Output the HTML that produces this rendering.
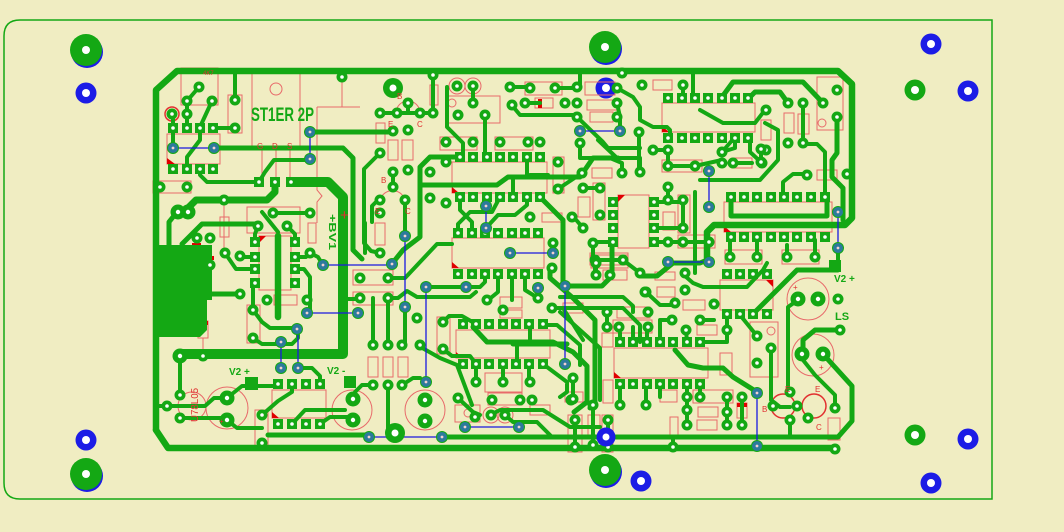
<!DOCTYPE html>
<html><head><meta charset="utf-8"><style>html,body{margin:0;padding:0;background:#f0edc2}svg{display:block}</style></head><body>
<svg width="1064" height="532" viewBox="0 0 1064 532" xmlns="http://www.w3.org/2000/svg" font-family="Liberation Sans, sans-serif">
<defs>
<g id="r"><circle r="5.5" fill="#14a814"/><circle r="1.8" fill="#fff"/></g>
<g id="R"><circle r="7.5" fill="#14a814"/><circle r="2.2" fill="#fff"/></g>
<g id="s"><rect x="-5" y="-5" width="10" height="10" fill="#14a814"/><circle r="1.8" fill="#fff"/></g>
<g id="v"><circle r="6" fill="#14a814"/><circle r="5" fill="#2c7a9c"/><circle r="1.4" fill="#f3d0d0"/></g>
</defs>
<rect width="1064" height="532" fill="#f0edc2"/>
<path d="M20,20 H992 V499 H20 Q4,499 4,483 V36 Q4,20 20,20 Z" fill="none" stroke="#14a814" stroke-width="1.5"/>

<!-- mounting holes -->
<g>
<circle cx="87" cy="52" r="16" fill="#1c1ce6"/><circle cx="86" cy="50" r="16" fill="#14a814"/><circle cx="86" cy="50" r="4" fill="#fff"/>
<circle cx="86" cy="93" r="10.5" fill="#1c1ce6"/><circle cx="86" cy="93" r="4" fill="#fff"/>
<circle cx="86" cy="440" r="10.5" fill="#1c1ce6"/><circle cx="86" cy="440" r="4" fill="#fff"/>
<circle cx="87" cy="476" r="16" fill="#1c1ce6"/><circle cx="86" cy="474" r="16" fill="#14a814"/><circle cx="86" cy="474" r="4" fill="#fff"/>
<circle cx="606" cy="49" r="16" fill="#1c1ce6"/><circle cx="605" cy="47" r="16" fill="#14a814"/><circle cx="605" cy="47" r="4" fill="#fff"/>
<circle cx="606" cy="88" r="10.5" fill="#1c1ce6"/><circle cx="606" cy="88" r="4" fill="#fff"/>
<circle cx="606" cy="472" r="16" fill="#1c1ce6"/><circle cx="605" cy="470" r="16" fill="#14a814"/><circle cx="605" cy="470" r="4" fill="#fff"/>
<circle cx="641" cy="481" r="10.5" fill="#1c1ce6"/><circle cx="641" cy="481" r="4" fill="#fff"/>
<circle cx="931" cy="44" r="10.5" fill="#1c1ce6"/><circle cx="931" cy="44" r="4" fill="#fff"/>
<circle cx="915" cy="90" r="10.5" fill="#14a814"/><circle cx="915" cy="90" r="4" fill="#fff"/>
<circle cx="968" cy="91" r="10.5" fill="#1c1ce6"/><circle cx="968" cy="91" r="4" fill="#fff"/>
<circle cx="915" cy="435" r="10.5" fill="#14a814"/><circle cx="915" cy="435" r="4" fill="#fff"/>
<circle cx="968" cy="439" r="10.5" fill="#1c1ce6"/><circle cx="968" cy="439" r="4" fill="#fff"/>
<circle cx="931" cy="483" r="10.5" fill="#1c1ce6"/><circle cx="931" cy="483" r="4" fill="#fff"/>
</g>

<!-- red silkscreen outlines -->
<g fill="none" stroke="#e86a6a" stroke-width="1">
<rect x="181" y="68" width="37" height="37"/><rect x="167" y="134" width="53" height="30"/><rect x="153" y="181" width="38" height="12"/>
<rect x="228" y="95" width="14" height="38"/><rect x="252" y="72" width="48" height="78"/><circle cx="276" cy="89" r="6"/>
<path d="M262,150V182M276,150V182M290,150V182M317,107H360M317,107V190L322,196L317,202V223M342,77V107"/>
<rect x="220" y="217" width="9" height="20"/><path d="M224,200V250"/>
<rect x="247" y="207" width="53" height="26"/><rect x="259" y="236" width="32" height="54"/>
<rect x="308" y="223" width="8" height="20"/><rect x="274" y="295" width="23" height="10"/>
<rect x="247" y="305" width="13" height="38"/><rect x="181" y="250" width="11" height="18"/><path d="M186,268V300"/>
<rect x="198" y="321" width="10" height="17"/><path d="M203,338V356"/>
<circle cx="192" cy="406" r="14"/><circle cx="227" cy="408" r="21"/><rect x="272" y="390" width="54" height="28"/>
<rect x="255" y="410" width="13" height="37"/><circle cx="352" cy="410" r="20"/><circle cx="425" cy="410" r="20"/>
<rect x="368" y="357" width="10" height="20"/><rect x="383" y="357" width="10" height="20"/><rect x="398" y="357" width="10" height="20"/>
<rect x="353" y="270" width="40" height="15"/><rect x="353" y="292" width="40" height="13"/>
<rect x="437" y="317" width="13" height="37"/><rect x="456" y="330" width="94" height="28"/>
<rect x="485" y="373" width="37" height="19"/><rect x="488" y="393" width="34" height="12"/><rect x="455" y="405" width="25" height="17"/>
<circle cx="468" cy="413" r="4"/><circle cx="491" cy="415" r="8"/><circle cx="505" cy="415" r="8"/>
<rect x="500" y="297" width="22" height="11"/><rect x="500" y="310" width="22" height="8"/>
<rect x="452" y="162" width="95" height="31"/><rect x="452" y="238" width="92" height="30"/>
<rect x="440" y="137" width="37" height="13"/><rect x="495" y="137" width="38" height="13"/>
<rect x="447" y="96" width="53" height="27"/><circle cx="452" cy="103" r="4"/><circle cx="457" cy="86" r="8"/><circle cx="473" cy="86" r="8"/>
<rect x="430" y="85" width="8" height="20"/>
<path d="M396,113A12,12 0 0 1 420,113M380,200A13,13 0 0 1 405,200"/>
<rect x="376" y="123" width="9" height="20"/><rect x="388" y="140" width="10" height="20"/><rect x="402" y="140" width="11" height="20"/><rect x="375" y="223" width="10" height="22"/>
<rect x="525" y="82" width="37" height="13"/><rect x="585" y="82" width="30" height="13"/><rect x="535" y="98" width="18" height="10"/>
<rect x="587" y="100" width="30" height="10"/><rect x="590" y="112" width="23" height="10"/><rect x="553" y="157" width="11" height="36"/>
<rect x="662" y="103" width="93" height="29"/><rect x="653" y="80" width="19" height="10"/>
<rect x="817" y="77" width="26" height="53"/><circle cx="822" cy="123" r="4"/>
<rect x="784" y="113" width="10" height="20"/><rect x="798" y="114" width="11" height="20"/><rect x="761" y="120" width="10" height="20"/>
<rect x="732" y="158" width="20" height="10"/><rect x="817" y="170" width="20" height="10"/>
<rect x="724" y="202" width="108" height="30"/><rect x="725" y="250" width="37" height="14"/><rect x="782" y="250" width="37" height="14"/>
<rect x="618" y="195" width="31" height="53"/><rect x="590" y="253" width="38" height="12"/><rect x="655" y="272" width="20" height="8"/>
<rect x="592" y="168" width="20" height="10"/><rect x="593" y="183" width="12" height="37"/><rect x="578" y="197" width="12" height="20"/>
<rect x="662" y="160" width="40" height="12"/><rect x="678" y="195" width="12" height="38"/><rect x="663" y="212" width="12" height="18"/><rect x="678" y="235" width="37" height="13"/>
<rect x="720" y="280" width="53" height="30"/><circle cx="808" cy="299" r="21"/><circle cx="813" cy="355" r="21"/>
<rect x="750" y="322" width="28" height="55"/><circle cx="771" cy="331" r="4"/><rect x="828" y="418" width="12" height="22"/>
<rect x="614" y="348" width="94" height="30"/><rect x="591" y="255" width="37" height="13"/><rect x="603" y="270" width="24" height="10"/>
<rect x="657" y="287" width="18" height="10"/><rect x="683" y="300" width="22" height="10"/><rect x="697" y="325" width="20" height="10"/>
<rect x="720" y="353" width="12" height="22"/><rect x="693" y="390" width="40" height="13"/><rect x="698" y="407" width="20" height="10"/><rect x="697" y="420" width="20" height="10"/>
<rect x="737" y="403" width="10" height="15"/><rect x="617" y="307" width="33" height="11"/><rect x="613" y="320" width="39" height="13"/>
<rect x="602" y="333" width="11" height="14"/><rect x="603" y="380" width="10" height="23"/><rect x="660" y="390" width="17" height="12"/><rect x="670" y="417" width="8" height="20"/>
<rect x="568" y="415" width="14" height="37"/><rect x="588" y="415" width="12" height="22"/><rect x="602" y="415" width="11" height="37"/>
<rect x="530" y="405" width="20" height="10"/><rect x="565" y="392" width="18" height="10"/>
<rect x="563" y="303" width="20" height="10"/><rect x="542" y="213" width="20" height="9"/>
</g>
<g stroke="#e23030" stroke-width="1.5" fill="none"><circle cx="783" cy="406" r="12"/><circle cx="814" cy="406" r="12"/><circle cx="172" cy="114" r="7"/></g>
<g fill="#e00000">
<path d="M167,158L175,164H167Z"/><path d="M452,187L459,193H452Z"/><path d="M452,262L459,268H452Z"/><path d="M456,352L463,358H456Z"/>
<path d="M614,372L621,378H614Z"/><path d="M662,126L669,132H662Z"/><path d="M724,226L731,232H724Z"/><path d="M773,280L766,280L773,287Z"/>
<path d="M618,195H625L618,202Z"/><path d="M259,236H266L259,243Z"/><path d="M272,412L279,418H272Z"/>
<rect x="198" y="321" width="10" height="4"/><rect x="737" y="403" width="10" height="4"/><rect x="538" y="99" width="4" height="9"/>
<rect x="192" y="243" width="9" height="4"/><rect x="205" y="256" width="9" height="4"/>
</g>

<!-- copper fill -->
<path d="M153,245H212V300H207V330L200,337H159L153,330Z" fill="#14a814"/>

<!-- traces -->
<g fill="none" stroke="#14a814" stroke-linecap="round" stroke-linejoin="round">
<g stroke-width="6.5">
<path d="M156,430V90L177,71H838L852,84V218L845,225H714L707,232V258"/>
<path d="M156,430L168,448H835"/>
<path d="M278,236V317"/>
</g>
<path stroke-width="10" d="M180,354H343V197L328,182H291"/>
<path stroke-width="7" d="M275,182V192L267,200H196L184,212"/>
<g stroke-width="5">
<path d="M214,148H343L353,158V250L362,259"/>
<path d="M310,132H393"/>
<path d="M240,294H212"/>
<path d="M268,435H369"/>
<path d="M442,437H838L852,421V386L823,354"/>
<path d="M177,212L169,222V246"/>
<path d="M182,244L202,224H255L258,226"/>
<path d="M473,327L487,342H553L573,352L587,366V402L574,412"/>
<path d="M675,350L688,365L703,368H723L733,377L757,392"/>
<path d="M722,97L733,82H803L823,103"/>
<path d="M750,97L755,92H780L788,103"/>
<path d="M731,197V216H827V197"/>
<path d="M422,185H497L508,177H580L593,158H618"/>
<path d="M837,117V153L832,160V177L843,188V220"/>
<path d="M838,270H797L780,287L767,300L753,314"/>
<path d="M840,330H815L803,340V354"/>
<path d="M550,268V278L573,298L595,320V402L590,408"/>
<path d="M513,344H567"/>
<path d="M640,276H657L673,263H700L707,260"/>
<path d="M391,265L403,250L420,237V167L430,157H460"/>
<path d="M540,197L563,220V286H602L612,276V243"/>
</g>
<g stroke-width="4">
<path d="M187,101L199,87M187,101V128M212,101L200,127V140L187,157V169M173,114V148"/>
<path d="M235,71V100M235,128H213M200,169V175L207,182H259M259,182L265,172L274,160H310M342,71V77M156,187H160"/>
<path d="M273,213H310M262,212L278,232M258,226L255,234V242M287,226L295,234V242M240,257H255M225,253L236,269H255"/>
<path d="M253,283V310M253,310L262,322L270,328H297M253,338L262,344H292L298,338V329"/>
<path d="M295,257H306L310,253L318,257L323,265M295,269H304L310,277V313"/>
<path d="M180,356V395M156,406H205L214,398H227M180,418H227M227,398L242,386H278M227,420L237,428H262"/>
<path d="M262,415L278,401L292,392V384M298,368H312L320,376V384M292,424L305,410H345M320,424L330,417H350"/>
<path d="M340,299H360M388,278H405L437,244H452M373,298V345M388,298V345M405,307V345M388,385V437"/>
<path d="M373,385H362L355,392V399M402,385L413,378H420M426,287H466"/>
<path d="M380,153L364,169V243L371,251L380,253M393,172V187M405,200V237"/>
<path d="M466,287H480L485,282V274M498,274V292L487,301M512,274V300M525,274V290L538,298"/>
<path d="M388,298H398L407,291L417,297H470L476,292"/>
<path d="M443,322L449,316H462L476,324M443,349L452,356H470L476,364"/>
<path d="M476,364V382M503,364V382M529,364V382M530,322V344M517,344V364M543,325H557L580,345V365M543,364L567,382V392L560,397"/>
<path d="M458,398L473,412L480,415M490,415L500,410H543L570,427H600M505,415L513,422H537L552,437M417,345L440,358L457,365L472,405"/>
<path d="M380,113H433M433,71V113M408,103V113M380,198L372,206V222M365,223V253"/>
<path d="M447,87V127L463,143V157M485,115V157M473,86V103M513,177V197M527,158V177"/>
<path d="M510,103L520,115H575L603,142L608,148H640M510,87H530M555,88H577M525,103H540M580,87V71M617,103L620,117V131"/>
<path d="M617,88L633,97L640,107V120L653,127H667L670,130V138M693,71V98M683,85V98M622,71V73"/>
<path d="M460,197V210L472,222V233M527,197V205L515,215H498L486,228M500,197L492,212H470L458,224V233"/>
<path d="M580,143V158H610L622,163V173M598,140L617,158H640V172M582,173L558,189M530,175H548"/>
<path d="M552,308H623L640,325V342M563,308L583,340M593,243V260M595,260V275"/>
<path d="M583,188H600M572,215L583,228M654,202H683M654,228H683M654,242H709M668,187V200M683,200V228M613,242H593"/>
<path d="M595,260H623L640,273M646,292L660,305H675M695,192V273M639,132V172M653,150H668V166H695L722,160M722,152L735,137"/>
<path d="M761,149V162M733,163H752M750,137V152L762,163M735,137V148L722,152M700,110L723,123H755L765,110"/>
<path d="M765,123L778,130V160L760,180H700M803,144H817L825,152V197M807,174H793L783,182V197M803,103V143"/>
<path d="M560,297H623L633,306V312M560,312L580,330L600,348V400M620,342V333M633,342V327M647,342V327M607,312V327"/>
<path d="M660,342V320H672M700,320H714M686,330L687,342M702,342H727V330M727,314V330M685,276L693,283L703,287H747L763,270L767,263"/>
<path d="M620,384V405M646,384V405M660,384V397M687,384V425M700,384V397M727,397V425M742,397V425M757,336L740,315"/>
<path d="M771,348V400L780,407H790M790,420V437M835,408V395L815,375L803,360M798,300L788,307V392M838,262V248"/>
<path d="M730,257V240M757,257V237M787,257V245M815,257V240M593,405V445M575,420V447M608,420V447M673,447V437"/>
<path d="M596,263V275M573,378V399"/>
</g>
</g>

<!-- blue jumpers -->
<g stroke="#1a1ae0" stroke-width="1.3" fill="none">
<path d="M310,132V159M173,148H214M307,313H358M323,265H392M405,236V308M426,287V382M369,437H442M465,427H519"/>
<path d="M565,286V364M580,131H620M486,206V228M510,253H553M709,171V207M838,212V248M668,262H709M757,393V446M281,342V368M298,329V368"/>
</g>

<!-- square pads -->
<g>
<use href="#s" x="173" y="128"/><use href="#s" x="187" y="128"/><use href="#s" x="200" y="128"/><use href="#s" x="213" y="128"/>
<use href="#s" x="173" y="169"/><use href="#s" x="187" y="169"/><use href="#s" x="200" y="169"/><use href="#s" x="213" y="169"/>
<use href="#s" x="259" y="182"/><use href="#s" x="275" y="182"/><use href="#s" x="291" y="182"/>
<use href="#s" x="460" y="157"/><use href="#s" x="473" y="157"/><use href="#s" x="487" y="157"/><use href="#s" x="500" y="157"/><use href="#s" x="513" y="157"/><use href="#s" x="527" y="157"/><use href="#s" x="540" y="157"/>
<use href="#s" x="460" y="197"/><use href="#s" x="473" y="197"/><use href="#s" x="487" y="197"/><use href="#s" x="500" y="197"/><use href="#s" x="513" y="197"/><use href="#s" x="527" y="197"/><use href="#s" x="540" y="197"/>
<use href="#s" x="458" y="233"/><use href="#s" x="472" y="233"/><use href="#s" x="485" y="233"/><use href="#s" x="498" y="233"/><use href="#s" x="512" y="233"/><use href="#s" x="525" y="233"/><use href="#s" x="538" y="233"/>
<use href="#s" x="458" y="274"/><use href="#s" x="472" y="274"/><use href="#s" x="485" y="274"/><use href="#s" x="498" y="274"/><use href="#s" x="512" y="274"/><use href="#s" x="525" y="274"/><use href="#s" x="538" y="274"/>
<use href="#s" x="463" y="324"/><use href="#s" x="476" y="324"/><use href="#s" x="489" y="324"/><use href="#s" x="503" y="324"/><use href="#s" x="516" y="324"/><use href="#s" x="529" y="324"/><use href="#s" x="543" y="324"/>
<use href="#s" x="463" y="364"/><use href="#s" x="476" y="364"/><use href="#s" x="489" y="364"/><use href="#s" x="503" y="364"/><use href="#s" x="516" y="364"/><use href="#s" x="529" y="364"/><use href="#s" x="543" y="364"/>
<use href="#s" x="620" y="342"/><use href="#s" x="633" y="342"/><use href="#s" x="647" y="342"/><use href="#s" x="660" y="342"/><use href="#s" x="673" y="342"/><use href="#s" x="687" y="342"/><use href="#s" x="700" y="342"/>
<use href="#s" x="620" y="384"/><use href="#s" x="633" y="384"/><use href="#s" x="647" y="384"/><use href="#s" x="660" y="384"/><use href="#s" x="673" y="384"/><use href="#s" x="687" y="384"/><use href="#s" x="700" y="384"/>
<use href="#s" x="668" y="98"/><use href="#s" x="682" y="98"/><use href="#s" x="695" y="98"/><use href="#s" x="708" y="98"/><use href="#s" x="722" y="98"/><use href="#s" x="735" y="98"/><use href="#s" x="748" y="98"/>
<use href="#s" x="668" y="138"/><use href="#s" x="682" y="138"/><use href="#s" x="695" y="138"/><use href="#s" x="708" y="138"/><use href="#s" x="722" y="138"/><use href="#s" x="735" y="138"/><use href="#s" x="748" y="138"/>
<use href="#s" x="731" y="197"/><use href="#s" x="744" y="197"/><use href="#s" x="757" y="197"/><use href="#s" x="771" y="197"/><use href="#s" x="784" y="197"/><use href="#s" x="797" y="197"/><use href="#s" x="811" y="197"/><use href="#s" x="825" y="197"/>
<use href="#s" x="731" y="237"/><use href="#s" x="744" y="237"/><use href="#s" x="757" y="237"/><use href="#s" x="771" y="237"/><use href="#s" x="784" y="237"/><use href="#s" x="797" y="237"/><use href="#s" x="811" y="237"/><use href="#s" x="825" y="237"/>
<use href="#s" x="727" y="274"/><use href="#s" x="740" y="274"/><use href="#s" x="753" y="274"/><use href="#s" x="767" y="274"/>
<use href="#s" x="727" y="314"/><use href="#s" x="740" y="314"/><use href="#s" x="753" y="314"/><use href="#s" x="767" y="314"/>
<use href="#s" x="613" y="202"/><use href="#s" x="613" y="215"/><use href="#s" x="613" y="228"/><use href="#s" x="613" y="242"/>
<use href="#s" x="654" y="202"/><use href="#s" x="654" y="215"/><use href="#s" x="654" y="228"/><use href="#s" x="654" y="242"/>
<use href="#s" x="255" y="242"/><use href="#s" x="255" y="257"/><use href="#s" x="255" y="269"/><use href="#s" x="255" y="283"/>
<use href="#s" x="295" y="242"/><use href="#s" x="295" y="257"/><use href="#s" x="295" y="269"/><use href="#s" x="295" y="283"/>
<use href="#s" x="278" y="384"/><use href="#s" x="292" y="384"/><use href="#s" x="306" y="384"/><use href="#s" x="320" y="384"/>
<use href="#s" x="278" y="424"/><use href="#s" x="292" y="424"/><use href="#s" x="306" y="424"/><use href="#s" x="320" y="424"/>
<rect x="245" y="377" width="13" height="13" fill="#14a814"/><rect x="344" y="376" width="12" height="12" fill="#14a814"/><rect x="829" y="260" width="12" height="12" fill="#14a814"/>
</g>

<!-- round pads -->
<g>
<use href="#r" x="199" y="87"/><use href="#r" x="187" y="101"/><use href="#r" x="212" y="101"/><use href="#r" x="172" y="114"/><use href="#r" x="187" y="114"/>
<use href="#r" x="235" y="100"/><use href="#r" x="235" y="128"/><use href="#r" x="342" y="77"/><use href="#r" x="160" y="187"/><use href="#r" x="187" y="187"/><use href="#r" x="224" y="200"/>
<use href="#R" x="178" y="212"/><use href="#R" x="188" y="212"/>
<use href="#r" x="273" y="213"/><use href="#r" x="310" y="213"/><use href="#r" x="258" y="226"/><use href="#r" x="287" y="226"/><use href="#r" x="240" y="256"/>
<use href="#r" x="197" y="238"/><use href="#r" x="210" y="238"/><use href="#r" x="225" y="253"/><use href="#r" x="210" y="265"/><use href="#r" x="253" y="310"/><use href="#r" x="253" y="338"/>
<use href="#r" x="267" y="300"/><use href="#r" x="307" y="300"/><use href="#r" x="310" y="253"/><use href="#r" x="240" y="294"/>
<use href="#R" x="180" y="356"/><use href="#r" x="203" y="356"/><use href="#r" x="180" y="395"/><use href="#r" x="167" y="406"/><use href="#r" x="180" y="418"/>
<use href="#r" x="262" y="415"/><use href="#r" x="262" y="443"/>
<use href="#r" x="373" y="385"/><use href="#r" x="388" y="385"/><use href="#r" x="402" y="385"/>
<use href="#r" x="373" y="345"/><use href="#r" x="388" y="345"/><use href="#r" x="402" y="345"/><use href="#r" x="360" y="278"/><use href="#r" x="388" y="278"/><use href="#r" x="360" y="298"/><use href="#r" x="388" y="298"/>
<use href="#r" x="443" y="322"/><use href="#r" x="443" y="349"/><use href="#r" x="476" y="382"/><use href="#r" x="503" y="382"/><use href="#r" x="530" y="382"/>
<use href="#r" x="458" y="398"/><use href="#r" x="475" y="417"/><use href="#r" x="491" y="415"/><use href="#r" x="505" y="415"/><use href="#r" x="492" y="400"/><use href="#r" x="520" y="400"/><use href="#r" x="532" y="400"/><use href="#r" x="571" y="400"/>
<use href="#r" x="487" y="300"/><use href="#r" x="503" y="310"/><use href="#r" x="538" y="298"/><use href="#r" x="420" y="345"/><use href="#r" x="417" y="318"/>
<use href="#r" x="380" y="113"/><use href="#r" x="397" y="113"/><use href="#r" x="420" y="113"/><use href="#r" x="408" y="103"/><use href="#r" x="433" y="113"/><use href="#r" x="433" y="75"/>
<use href="#r" x="393" y="131"/><use href="#r" x="408" y="130"/><use href="#r" x="380" y="153"/><use href="#r" x="393" y="172"/><use href="#r" x="408" y="170"/>
<use href="#r" x="380" y="200"/><use href="#r" x="393" y="187"/><use href="#r" x="405" y="200"/><use href="#r" x="380" y="213"/><use href="#r" x="380" y="253"/>
<use href="#r" x="430" y="172"/><use href="#r" x="430" y="198"/><use href="#r" x="446" y="162"/><use href="#r" x="446" y="203"/>
<use href="#r" x="446" y="142"/><use href="#r" x="473" y="142"/><use href="#r" x="500" y="142"/><use href="#r" x="528" y="142"/><use href="#r" x="540" y="142"/><use href="#r" x="580" y="143"/>
<use href="#r" x="558" y="162"/><use href="#r" x="558" y="189"/>
<use href="#r" x="457" y="86"/><use href="#r" x="473" y="86"/><use href="#r" x="473" y="103"/><use href="#r" x="458" y="115"/><use href="#r" x="485" y="115"/>
<circle cx="393" cy="88" r="10" fill="#14a814"/><circle cx="393" cy="88" r="3.5" fill="#fff"/>
<circle cx="395" cy="433" r="10" fill="#14a814"/><circle cx="395" cy="433" r="3.5" fill="#fff"/>
<use href="#r" x="510" y="87"/><use href="#r" x="530" y="88"/><use href="#r" x="555" y="88"/><use href="#r" x="577" y="87"/><use href="#r" x="512" y="105"/><use href="#r" x="525" y="103"/>
<use href="#r" x="565" y="103"/><use href="#r" x="577" y="103"/><use href="#r" x="577" y="117"/><use href="#r" x="617" y="117"/><use href="#r" x="617" y="103"/><use href="#r" x="617" y="88"/><use href="#r" x="622" y="73"/>
<use href="#r" x="642" y="85"/><use href="#r" x="683" y="85"/>
<use href="#r" x="788" y="103"/><use href="#r" x="803" y="103"/><use href="#r" x="788" y="143"/><use href="#r" x="803" y="143"/><use href="#r" x="766" y="110"/><use href="#r" x="766" y="150"/>
<use href="#r" x="762" y="163"/><use href="#r" x="722" y="152"/><use href="#r" x="722" y="163"/><use href="#r" x="807" y="175"/><use href="#r" x="847" y="174"/>
<use href="#r" x="837" y="90"/><use href="#r" x="837" y="117"/><use href="#r" x="823" y="103"/>
<use href="#r" x="730" y="257"/><use href="#r" x="757" y="257"/><use href="#r" x="787" y="257"/><use href="#r" x="815" y="257"/>
<use href="#r" x="582" y="173"/><use href="#r" x="622" y="173"/><use href="#r" x="583" y="188"/><use href="#r" x="600" y="188"/><use href="#r" x="600" y="215"/><use href="#r" x="583" y="228"/><use href="#r" x="572" y="217"/><use href="#r" x="530" y="217"/>
<use href="#r" x="553" y="243"/><use href="#r" x="593" y="243"/><use href="#r" x="595" y="260"/><use href="#r" x="623" y="260"/><use href="#r" x="640" y="273"/><use href="#r" x="646" y="292"/><use href="#r" x="685" y="273"/><use href="#r" x="685" y="290"/>
<use href="#r" x="639" y="132"/><use href="#r" x="653" y="150"/><use href="#r" x="668" y="150"/><use href="#r" x="668" y="166"/><use href="#r" x="695" y="166"/>
<use href="#r" x="761" y="149"/><use href="#r" x="761" y="162"/><use href="#r" x="733" y="163"/><use href="#r" x="668" y="187"/><use href="#r" x="668" y="200"/><use href="#r" x="683" y="200"/>
<use href="#r" x="683" y="228"/><use href="#r" x="668" y="242"/><use href="#r" x="683" y="242"/><use href="#r" x="709" y="242"/><use href="#r" x="640" y="172"/>
<use href="#r" x="552" y="268"/><use href="#r" x="552" y="308"/><use href="#r" x="610" y="275"/>
<use href="#r" x="596" y="263"/><use href="#r" x="596" y="275"/><use href="#r" x="645" y="292"/><use href="#r" x="675" y="303"/><use href="#r" x="714" y="304"/>
<use href="#r" x="672" y="320"/><use href="#r" x="700" y="320"/><use href="#r" x="686" y="330"/><use href="#r" x="727" y="330"/><use href="#r" x="607" y="312"/><use href="#r" x="607" y="327"/>
<use href="#r" x="619" y="327"/><use href="#r" x="648" y="327"/><use href="#r" x="648" y="312"/><use href="#r" x="742" y="397"/><use href="#r" x="727" y="397"/><use href="#r" x="700" y="397"/>
<use href="#r" x="687" y="397"/><use href="#r" x="687" y="410"/><use href="#r" x="687" y="425"/><use href="#r" x="727" y="412"/><use href="#r" x="742" y="425"/><use href="#r" x="727" y="425"/>
<use href="#r" x="620" y="405"/><use href="#r" x="646" y="405"/><use href="#r" x="593" y="405"/><use href="#r" x="573" y="378"/><use href="#r" x="573" y="399"/><use href="#r" x="575" y="420"/><use href="#r" x="575" y="447"/>
<use href="#r" x="593" y="445"/><use href="#r" x="608" y="420"/><use href="#r" x="608" y="447"/><use href="#r" x="757" y="336"/><use href="#r" x="771" y="348"/><use href="#r" x="757" y="363"/><use href="#r" x="673" y="447"/>
<use href="#r" x="838" y="299"/><use href="#r" x="840" y="330"/><use href="#R" x="802" y="354"/><use href="#R" x="823" y="354"/><use href="#R" x="818" y="299"/>
<use href="#r" x="790" y="392"/><use href="#r" x="773" y="406"/><use href="#r" x="790" y="420"/><use href="#r" x="797" y="406"/><use href="#r" x="808" y="418"/><use href="#r" x="835" y="408"/><use href="#r" x="835" y="449"/>
<use href="#R" x="798" y="299"/><use href="#R" x="227" y="398"/><use href="#R" x="227" y="420"/><use href="#R" x="425" y="400"/><use href="#R" x="425" y="421"/><use href="#R" x="353" y="399"/><use href="#R" x="353" y="420"/>
</g>
<circle cx="606" cy="437" r="9.5" fill="#1c1ce6"/><circle cx="606" cy="437" r="3.5" fill="#fff"/>

<!-- vias -->
<g>
<use href="#v" x="173" y="148"/><use href="#v" x="214" y="148"/><use href="#v" x="310" y="132"/><use href="#v" x="310" y="159"/><use href="#v" x="323" y="265"/>
<use href="#v" x="307" y="313"/><use href="#v" x="358" y="313"/><use href="#v" x="297" y="329"/><use href="#v" x="281" y="342"/><use href="#v" x="281" y="368"/><use href="#v" x="298" y="368"/>
<use href="#v" x="392" y="264"/><use href="#v" x="426" y="287"/><use href="#v" x="466" y="287"/><use href="#v" x="405" y="307"/><use href="#v" x="426" y="382"/>
<use href="#v" x="465" y="427"/><use href="#v" x="519" y="427"/><use href="#v" x="442" y="437"/><use href="#v" x="369" y="437"/><use href="#v" x="538" y="288"/><use href="#v" x="565" y="286"/><use href="#v" x="565" y="364"/>
<use href="#v" x="510" y="253"/><use href="#v" x="553" y="253"/><use href="#v" x="580" y="131"/><use href="#v" x="620" y="131"/><use href="#v" x="486" y="206"/><use href="#v" x="486" y="228"/><use href="#v" x="405" y="236"/>
<use href="#v" x="709" y="171"/><use href="#v" x="709" y="207"/><use href="#v" x="838" y="212"/><use href="#v" x="838" y="248"/><use href="#v" x="668" y="262"/><use href="#v" x="709" y="262"/><use href="#v" x="757" y="393"/><use href="#v" x="757" y="446"/>
</g>

<!-- text -->
<g font-weight="bold" fill="#14a814">
<text x="251" y="121" font-size="19" textLength="63" lengthAdjust="spacingAndGlyphs">ST1ER 2P</text>
<text transform="translate(329,214) rotate(90)" font-size="10" textLength="36" lengthAdjust="spacingAndGlyphs">+BV1</text>
<text x="229" y="375" font-size="10">V2 +</text>
<text x="327" y="374" font-size="10">V2 -</text>
<text x="834" y="282" font-size="10">V2 +</text>
<text x="835" y="320" font-size="11">LS</text>
</g>
<g fill="#e03030">
<text x="340" y="220" font-size="15">+</text>
<text x="257" y="149" font-size="8">G</text><text x="272" y="149" font-size="8">D</text><text x="287" y="149" font-size="8">S</text>
<text transform="translate(198,422) rotate(-90)" font-size="10" textLength="34" lengthAdjust="spacingAndGlyphs">U78L05</text>
<text x="397" y="99" font-size="8">B</text><text x="388" y="127" font-size="8">E</text><text x="417" y="127" font-size="8">C</text>
<text x="381" y="183" font-size="8">B</text><text x="375" y="214" font-size="8">E</text><text x="405" y="214" font-size="8">C</text>
<text x="762" y="412" font-size="8">B</text><text x="785" y="392" font-size="8">E</text><text x="815" y="392" font-size="8">E</text><text x="816" y="430" font-size="8">C</text>
<text x="203" y="75" font-size="6">4K7</text>
<text x="793" y="290" font-size="8">+</text><text x="819" y="370" font-size="8">+</text><text x="219" y="424" font-size="8">+</text>
</g>
</svg>
</body></html>
